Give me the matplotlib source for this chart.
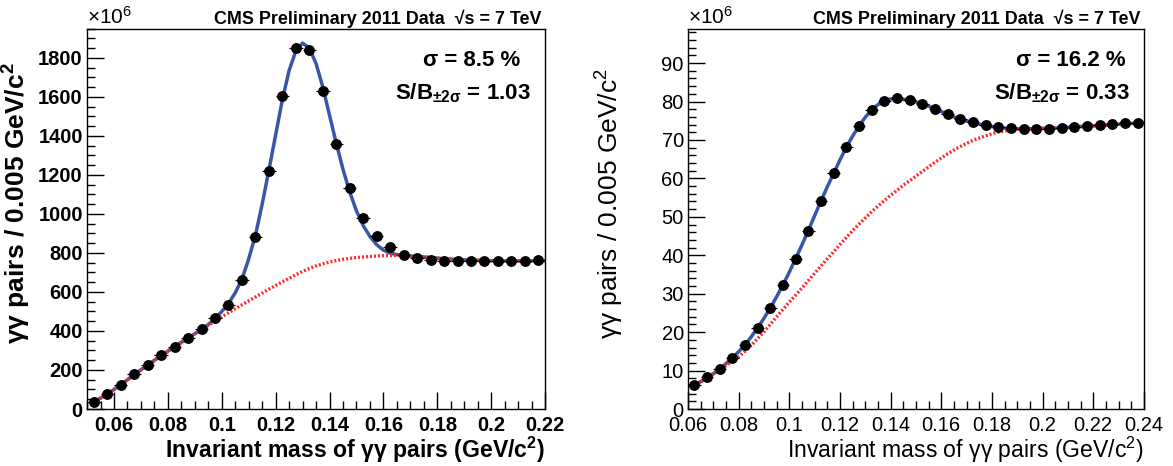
import numpy as np
import matplotlib
matplotlib.use("Agg")
import matplotlib.pyplot as plt
from matplotlib.ticker import MultipleLocator

plt.rcParams["font.family"] = ["Liberation Sans", "DejaVu Sans"]
plt.rcParams["mathtext.fontset"] = "custom"
plt.rcParams["mathtext.rm"] = "Liberation Sans"
plt.rcParams["mathtext.bf"] = "Liberation Sans:bold"
plt.rcParams["mathtext.it"] = "Liberation Sans:italic"

# ---- pi0 panel (left), counts in units of 1e6 per 0.005 GeV/c^2
pi0_mass = [0.0525, 0.0575, 0.0625, 0.0675, 0.0725, 0.0775, 0.0825, 0.0875, 0.0925, 0.0975,
            0.1025, 0.1075, 0.1125, 0.1175, 0.1225, 0.1275, 0.1325, 0.1375, 0.1425, 0.1475,
            0.1525, 0.1575, 0.1625, 0.1675, 0.1725, 0.1775, 0.1825, 0.1875, 0.1925, 0.1975,
            0.2025, 0.2075, 0.2125, 0.2175]
pi0_counts = [36, 76, 125, 178, 227, 275, 320, 363, 409, 466,
              535, 660, 881, 1220, 1602, 1850, 1842, 1630, 1358, 1131,
              980, 886, 828, 790, 772, 764, 757, 756, 756, 757,
              759, 760, 760, 763]
pi0_fit_x = np.round(np.arange(0.0525, 0.2201, 0.0025), 4)
pi0_fit_total = [36, 56, 77, 100, 125, 150, 176, 201, 225, 250,
                 274, 297, 320, 342, 364, 386, 409, 433, 463, 500,
                 540, 596, 665, 770, 890, 1050, 1225, 1405, 1585, 1735,
                 1835, 1875, 1850, 1770, 1650, 1505, 1362, 1228, 1112, 1015,
                 940, 884, 842, 814, 799, 791, 787, 784, 782, 779,
                 776, 773, 770, 768, 766, 764, 763, 762, 761, 760,
                 760, 759, 759, 759, 759, 759, 759, 759]
pi0_fit_bkg = [36, 56, 77, 100, 125, 150, 175, 200, 224, 248,
               272, 295, 318, 341, 363, 385, 407, 429, 451, 472,
               493, 514, 534, 554, 574, 594, 614, 633, 652, 670,
               688, 705, 720, 733, 744, 753, 761, 767, 772, 776,
               779, 782, 784, 786, 787, 787, 786, 784, 782, 779,
               776, 773, 770, 768, 766, 764, 763, 762, 761, 760,
               760, 759, 759, 759, 759, 759, 759, 759]
pi0_xticks = [0.06, 0.08, 0.10, 0.12, 0.14, 0.16, 0.18, 0.20, 0.22]
pi0_xlabels = ["0.06", "0.08", "0.1", "0.12", "0.14", "0.16", "0.18", "0.2", "0.22"]
pi0_yticks = [0, 200, 400, 600, 800, 1000, 1200, 1400, 1600, 1800]

# ---- eta panel (right)
eta_mass = [0.0625, 0.0675, 0.0725, 0.0775, 0.0825, 0.0875, 0.0925, 0.0975, 0.1025, 0.1075,
            0.1125, 0.1175, 0.1225, 0.1275, 0.1325, 0.1375, 0.1425, 0.1475, 0.1525, 0.1575,
            0.1625, 0.1675, 0.1725, 0.1775, 0.1825, 0.1875, 0.1925, 0.1975, 0.2025, 0.2075,
            0.2125, 0.2175, 0.2225, 0.2275, 0.2325, 0.2375]
eta_counts = [6.2, 8.2, 10.4, 13.3, 16.7, 21.1, 26.3, 32.3, 39.1, 46.4,
              54.1, 61.3, 68.1, 73.6, 77.8, 80.1, 80.8, 80.4, 79.4, 78.1,
              76.7, 75.4, 74.7, 74.0, 73.5, 73.1, 72.8, 72.8, 72.8, 73.1,
              73.4, 73.7, 73.9, 74.1, 74.3, 74.4]
eta_fit_x = np.round(np.arange(0.0625, 0.2401, 0.0025), 4)
eta_fit_total = [6.2, 7.1, 8.2, 9.2, 10.4, 11.8, 13.3, 14.9, 16.7, 18.8,
                 21.1, 23.6, 26.3, 29.2, 32.3, 35.6, 39.1, 42.7, 46.4, 50.3,
                 54.1, 57.8, 61.3, 64.8, 68.1, 71.0, 73.6, 75.9, 77.8, 79.2,
                 80.2, 80.7, 80.8, 80.6, 80.3, 79.9, 79.4, 78.8, 78.1, 77.4,
                 76.7, 76.0, 75.4, 74.9, 74.5, 74.1, 73.8, 73.5, 73.3, 73.1,
                 73.0, 72.9, 72.9, 72.9, 72.9, 73.0, 73.0, 73.1, 73.2, 73.3,
                 73.4, 73.5, 73.6, 73.7, 73.8, 73.9, 74.0, 74.1, 74.2, 74.3,
                 74.4, 74.5]
eta_fit_bkg = [6.0, 7.0, 8.0, 9.1, 10.2, 11.3, 12.4, 13.6, 15.0, 16.6,
               18.3, 20.1, 22.0, 24.0, 25.9, 27.8, 29.6, 31.5, 33.4, 35.3,
               37.2, 39.1, 40.9, 42.8, 44.6, 46.4, 48.1, 49.7, 51.3, 52.8,
               54.2, 55.6, 56.9, 58.2, 59.4, 60.6, 61.8, 63.0, 64.2, 65.3,
               66.4, 67.4, 68.3, 69.1, 69.9, 70.5, 71.1, 71.6, 72.0, 72.3,
               72.6, 72.8, 72.9, 73.0, 73.1, 73.1, 73.2, 73.2, 73.3, 73.4,
               73.5, 73.5, 73.6, 73.7, 73.8, 73.9, 74.0, 74.1, 74.2, 74.3,
               74.4, 74.5]
eta_xticks = [0.06, 0.08, 0.10, 0.12, 0.14, 0.16, 0.18, 0.20, 0.22, 0.24]
eta_xlabels = ["0.06", "0.08", "0.1", "0.12", "0.14", "0.16", "0.18", "0.2", "0.22", "0.24"]
eta_yticks = [0, 10, 20, 30, 40, 50, 60, 70, 80, 90]

BLUE = "#3a56a8"
RED = "#ff2a2a"


def draw_panel(ax, x, y, fx, ftot, fbkg, bold, sigma_txt, sb_txt, xticks, xlabels, yticks,
               xlim, ylim, yminor, ylab_x):
    w = "bold" if bold else "normal"
    ax.plot(fx, ftot, color=BLUE, lw=2.5, zorder=2, solid_capstyle="round")
    ax.plot(fx, fbkg, color=RED, lw=2.4, linestyle=(0, (0.6, 0.6)), zorder=3)
    ax.errorbar(x, y, xerr=0.0025, fmt="o", color="black", ms=6.8, elinewidth=0.9,
                capsize=0, zorder=4)

    ax.set_xlim(*xlim)
    ax.set_ylim(*ylim)
    ax.set_xticks(xticks)
    ax.set_xticklabels(xlabels, fontweight=w, fontsize=14.5)
    ax.set_yticks(yticks)
    ax.set_yticklabels([str(t) for t in yticks], fontweight=w, fontsize=14.5)
    ax.xaxis.set_minor_locator(MultipleLocator(0.005))
    ax.yaxis.set_minor_locator(MultipleLocator(yminor))
    ax.tick_params(which="both", direction="in", top=False, right=False, width=1)
    ax.tick_params(which="major", length=12)
    ax.tick_params(which="minor", length=6)
    ax.tick_params(axis="x", pad=5)
    ax.tick_params(axis="y", pad=3)
    for s in ax.spines.values():
        s.set_linewidth(1)

    sup = r"$^{\mathbf{2}}$" if bold else r"$^{2}$"
    ax.set_ylabel("γγ pairs / 0.005 GeV/c" + sup, fontsize=19, fontweight=w)
    ax.yaxis.set_label_coords(ylab_x, 0.54)
    ax.text(1.0, -0.108, "Invariant mass of γγ pairs (GeV/c" + sup + ")", fontsize=16.6,
            fontweight=w, ha="right", va="center", transform=ax.transAxes)

    ax.text(0.0, 1.012, r"$\times$10$^{6}$", fontsize=15, ha="left", va="baseline",
            transform=ax.transAxes)
    ax.text(0.992, 1.012, "CMS Preliminary 2011 Data  √s = 7 TeV", fontsize=12.9,
            fontweight="bold", ha="right", va="baseline", transform=ax.transAxes)
    ax.text(0.84, 0.915, sigma_txt, fontsize=16, fontweight="bold", ha="center",
            va="center", transform=ax.transAxes)
    ax.text(0.82, 0.83, r"S/B$_{\mathbf{\pm2\sigma}}$ = " + sb_txt, fontsize=16,
            fontweight="bold", ha="center", va="center", transform=ax.transAxes)


fig = plt.figure(figsize=(11.73, 4.66), dpi=100)
ax1 = fig.add_axes([0.0742, 0.1223, 0.3905, 0.8165])
ax2 = fig.add_axes([0.5865, 0.1223, 0.3887, 0.8165])

draw_panel(ax1, pi0_mass, pi0_counts, pi0_fit_x, pi0_fit_total, pi0_fit_bkg, True,
           "σ = 8.5 %", "1.03", pi0_xticks, pi0_xlabels, pi0_yticks,
           (0.05, 0.22), (0, 1950), 50, -0.118)
draw_panel(ax2, eta_mass, eta_counts, eta_fit_x, eta_fit_total, eta_fit_bkg, False,
           "σ = 16.2 %", "0.33", eta_xticks, eta_xlabels, eta_yticks,
           (0.06, 0.24), (0, 99), 2, -0.135)

fig.savefig("out.png", dpi=100)
